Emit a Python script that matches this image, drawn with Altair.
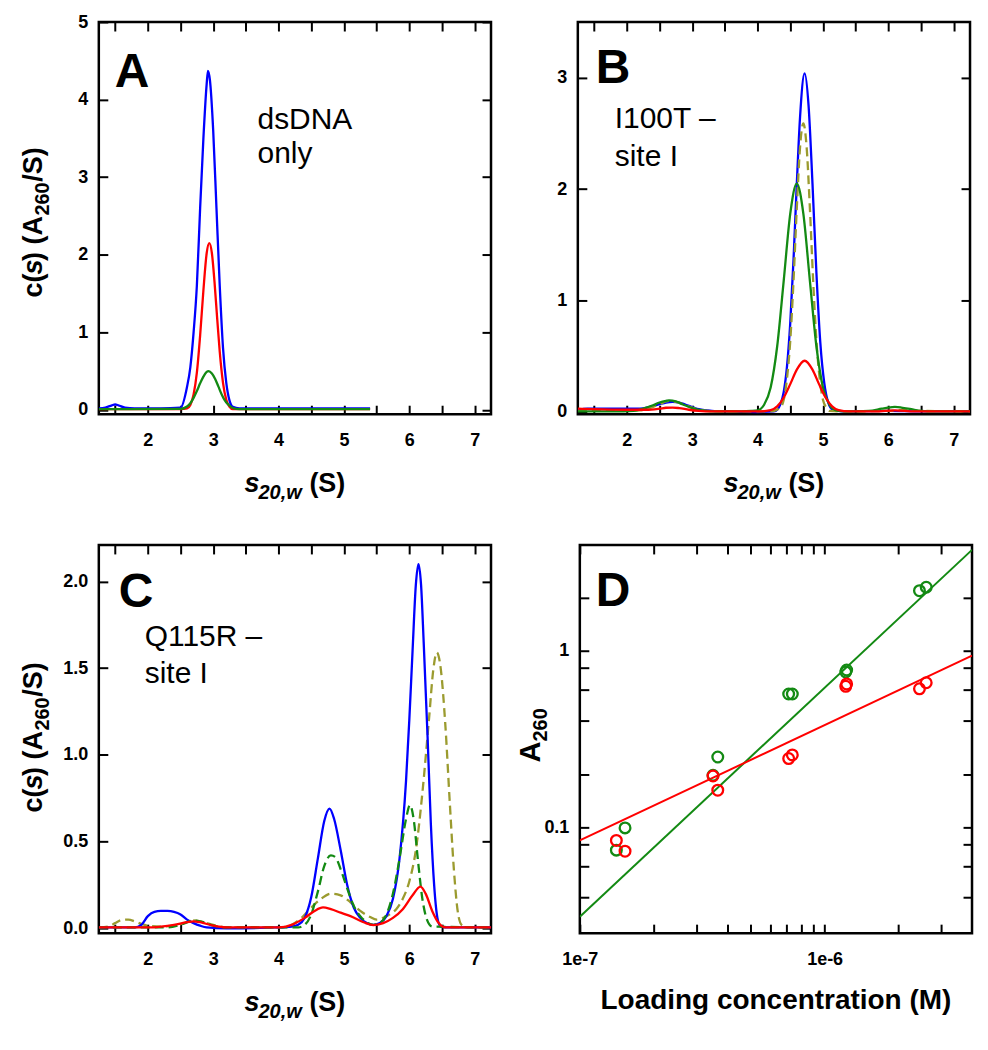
import altair as alt
import pandas as pd

FONT = "Liberation Sans"
BLUE = "#0000ff"
RED = "#ff0000"
GREEN = "#138a13"
OLIVE = "#9b9b2f"

# ---------------- Panel A : dsDNA only ----------------
A_blue_s = [1.25, 1.35, 1.45, 1.5, 1.55, 1.65, 1.8, 2.2, 2.5, 2.6, 2.65, 2.7, 2.75, 2.8, 2.85, 2.9, 2.92, 2.95,
            3.0, 3.05, 3.1, 3.15, 3.2, 3.25, 3.3, 3.4, 4.0, 5.4]
A_blue_c = [0.02, 0.03, 0.06, 0.07, 0.06, 0.03, 0.02, 0.02, 0.03, 0.3, 0.55, 1.0, 1.6, 2.6, 3.5, 4.2, 4.37, 4.25,
            3.6, 2.6, 1.6, 0.8, 0.35, 0.12, 0.04, 0.02, 0.02, 0.02]
A_red_s = [1.25, 2.5, 2.6, 2.65, 2.7, 2.75, 2.8, 2.85, 2.9, 2.94, 2.98, 3.02, 3.06, 3.1, 3.15, 3.2, 3.25, 3.3, 3.4, 5.4]
A_red_c = [0.01, 0.01, 0.02, 0.065, 0.2, 0.48, 0.96, 1.54, 2.02, 2.15, 2.02, 1.65, 1.19, 0.75, 0.35, 0.13, 0.04,
           0.01, 0.01, 0.01]
A_green_s = [1.25, 2.5, 2.6, 2.65, 2.7, 2.75, 2.8, 2.85, 2.9, 2.93, 2.98, 3.03, 3.08, 3.13, 3.18, 3.23, 3.3, 3.4, 5.4]
A_green_c = [0.01, 0.015, 0.045, 0.087, 0.156, 0.243, 0.343, 0.43, 0.49, 0.5, 0.47, 0.4, 0.3, 0.2, 0.12, 0.07,
             0.025, 0.01, 0.01]

# ---------------- Panel B : I100T - site I ----------------
B_blue_s = [1.25, 1.4, 1.8, 2.2, 2.35, 2.5, 2.6, 2.7, 2.8, 2.9, 3.0, 3.1, 3.3, 3.6, 4.0, 4.25, 4.3, 4.35, 4.4, 4.45,
            4.5, 4.55, 4.6, 4.65, 4.72, 4.78, 4.84, 4.9, 4.96, 5.02, 5.08, 5.15, 5.3, 6.0, 6.5, 7.25]
B_blue_c = [0.02, 0.03, 0.03, 0.03, 0.045, 0.07, 0.085, 0.09, 0.085, 0.065, 0.045, 0.025, 0.01, 0.005, 0.0, 0.005,
            0.02, 0.07, 0.18, 0.41, 0.8, 1.37, 2.05, 2.65, 3.04, 2.75, 2.05, 1.25, 0.62, 0.26, 0.085, 0.02, 0.005,
            0.01, 0.005, 0.005]
B_olive_s = [1.25, 1.8, 2.2, 2.35, 2.5, 2.6, 2.65, 2.75, 2.9, 3.05, 3.2, 3.5, 4.2, 4.35, 4.4, 4.45, 4.5, 4.55, 4.6,
             4.65, 4.7, 4.75, 4.8, 4.85, 4.9, 4.95, 5.0, 5.05, 5.1, 5.3, 6.0, 6.3, 6.5, 7.25]
B_olive_c = [0.01, 0.01, 0.015, 0.035, 0.07, 0.095, 0.1, 0.09, 0.06, 0.03, 0.012, 0.005, 0.005, 0.04, 0.11, 0.3,
             0.64, 1.18, 1.83, 2.38, 2.59, 2.38, 1.83, 1.18, 0.64, 0.3, 0.11, 0.04, 0.01, 0.005, 0.01, 0.02, 0.01,
             0.005]
B_green_s = [1.25, 1.8, 2.1, 2.25, 2.4, 2.5, 2.6, 2.65, 2.75, 2.85, 3.0, 3.15, 3.3, 3.6, 3.9, 4.0, 4.1, 4.2, 4.3,
             4.4, 4.5, 4.6, 4.7, 4.8, 4.9, 5.0, 5.1, 5.2, 5.35, 5.7, 5.9, 6.0, 6.1, 6.2, 6.35, 6.5, 6.7, 7.25]
B_green_c = [0.005, 0.005, 0.01, 0.03, 0.06, 0.085, 0.1, 0.105, 0.095, 0.07, 0.035, 0.015, 0.005, 0.005, 0.01,
             0.015, 0.065, 0.22, 0.59, 1.18, 1.78, 2.05, 1.78, 1.18, 0.59, 0.22, 0.065, 0.015, 0.005, 0.01, 0.03,
             0.04, 0.045, 0.04, 0.025, 0.01, 0.005, 0.005]
B_red_s = [1.25, 1.5, 2.0, 2.3, 2.5, 2.6, 2.7, 2.8, 2.95, 3.1, 3.3, 4.0, 4.2, 4.3, 4.4, 4.5, 4.6, 4.72, 4.84, 4.94,
           5.04, 5.14, 5.24, 5.4, 5.8, 6.1, 6.4, 7.25]
B_red_c = [0.03, 0.025, 0.02, 0.02, 0.03, 0.038, 0.04, 0.035, 0.02, 0.01, 0.005, 0.005, 0.016, 0.05, 0.13, 0.25,
           0.38, 0.46, 0.38, 0.25, 0.13, 0.05, 0.016, 0.005, 0.005, 0.015, 0.005, 0.005]

# ---------------- Panel C : Q115R - site I ----------------
C_blue_s = [1.25, 1.8, 1.9, 2.0, 2.1, 2.2, 2.3, 2.4, 2.5, 2.6, 2.7, 2.8, 2.9, 3.2, 4.0, 4.2, 4.3, 4.4, 4.5, 4.6,
            4.7, 4.78, 4.85, 4.95, 5.05, 5.15, 5.25, 5.35, 5.45, 5.55, 5.65, 5.75, 5.85, 5.95, 6.0, 6.05, 6.1, 6.14,
            6.18, 6.22, 6.28, 6.33, 6.38, 6.43, 6.48, 6.6, 7.25]
C_blue_c = [0.005, 0.005, 0.02, 0.07, 0.095, 0.1, 0.1, 0.095, 0.08, 0.05, 0.03, 0.015, 0.005, 0.0, 0.005, 0.01,
            0.02, 0.06, 0.18, 0.4, 0.62, 0.69, 0.63, 0.45, 0.25, 0.12, 0.06, 0.03, 0.02, 0.03, 0.07, 0.17, 0.4,
            0.85, 1.2, 1.6, 1.98, 2.1, 1.98, 1.65, 1.1, 0.6, 0.25, 0.06, 0.01, 0.005, 0.005]
C_red_s = [1.25, 2.0, 2.2, 2.4, 2.6, 2.7, 2.8, 3.0, 3.2, 4.0, 4.2, 4.4, 4.55, 4.68, 4.8, 4.95, 5.1, 5.3, 5.45, 5.6,
           5.75, 5.9, 6.05, 6.17, 6.25, 6.35, 6.45, 6.55, 7.25]
C_red_c = [0.005, 0.005, 0.01, 0.02, 0.035, 0.04, 0.035, 0.015, 0.005, 0.005, 0.02, 0.06, 0.1, 0.12, 0.11, 0.09,
           0.07, 0.035, 0.018, 0.03, 0.06, 0.11, 0.19, 0.24, 0.2, 0.1, 0.03, 0.005, 0.005]
C_green_s = [1.25, 2.3, 2.5, 2.7, 2.85, 3.0, 3.2, 4.3, 4.4, 4.5, 4.6, 4.7, 4.8, 4.87, 4.95, 5.05, 5.15, 5.25, 5.35,
             5.45, 5.55, 5.65, 5.75, 5.85, 5.95, 6.01, 6.07, 6.13, 6.2, 6.27, 6.35, 7.25]
C_green_c = [0.005, 0.005, 0.02, 0.045, 0.035, 0.015, 0.005, 0.005, 0.02, 0.08, 0.21, 0.36, 0.42, 0.41, 0.34, 0.23,
             0.13, 0.07, 0.035, 0.02, 0.03, 0.08, 0.2, 0.4, 0.63, 0.71, 0.62, 0.4, 0.17, 0.05, 0.01, 0.005]
C_olive_s = [1.25, 1.4, 1.5, 1.6, 1.7, 1.8, 1.9, 2.0, 2.2, 2.4, 2.55, 2.7, 2.85, 3.0, 3.2, 4.0, 4.2, 4.35, 4.5, 4.65,
             4.8, 4.95, 5.1, 5.25, 5.4, 5.5, 5.6, 5.7, 5.8, 5.9, 6.0, 6.1, 6.2, 6.3, 6.37, 6.42, 6.48, 6.55, 6.62,
             6.68, 6.74, 6.8, 6.9, 7.25]
C_olive_c = [0.005, 0.01, 0.03, 0.048, 0.05, 0.04, 0.025, 0.015, 0.01, 0.015, 0.03, 0.045, 0.035, 0.02, 0.005,
             0.005, 0.02, 0.06, 0.12, 0.17, 0.2, 0.19, 0.15, 0.1, 0.065, 0.05, 0.06, 0.08, 0.11, 0.17, 0.27, 0.45,
             0.78, 1.2, 1.5, 1.59, 1.5, 1.18, 0.72, 0.35, 0.1, 0.02, 0.005, 0.005]

# ---------------- Panel D : A260 vs loading concentration ----------------
D_conc = [1.41e-7, 1.53e-7, 3.50e-7, 3.66e-7, 7.13e-7, 7.38e-7, 1.22e-6, 1.23e-6, 2.44e-6, 2.60e-6]
D_green = [0.074, 0.099, 0.197, 0.25, 0.57, 0.57, 0.76, 0.78, 2.2, 2.3]
D_red = [0.084, 0.073, 0.195, 0.162, 0.245, 0.257, 0.63, 0.65, 0.61, 0.66]
D_fit_x = [1e-7, 4e-6]
D_green_fit = [0.031, 3.75]
D_red_fit = [0.084, 0.94]

S_TICKS = [1.5, 2, 2.5, 3, 3.5, 4, 4.5, 5, 5.5, 6, 6.5, 7]
D_X_TICKS = [1e-7, 2e-7, 3e-7, 4e-7, 5e-7, 6e-7, 7e-7, 8e-7, 9e-7, 1e-6, 2e-6, 3e-6]
D_Y_TICKS = [0.04, 0.06, 0.08, 0.1, 0.2, 0.4, 0.6, 0.8, 1, 2]

W = 393
H1 = 393
H2 = 389
TICK = 9


def axis(orient, values, labels=True, label_expr=None, fmt=None, pad=11):
    kw = dict(orient=orient, values=values, labels=labels, title=None, domain=False, grid=False,
              ticks=True, tickSize=TICK, tickWidth=2, tickColor="black", offset=-TICK,
              labelPadding=pad, labelFont=FONT, labelFontSize=18, labelFontWeight="bold",
              labelColor="black", labelFlush=False, labelOverlap=False)
    if label_expr is not None:
        kw["labelExpr"] = label_expr
    if fmt is not None:
        kw["format"] = fmt
    return alt.Axis(**kw)


def text(t, x, y, size, weight="bold", style="normal", angle=0, align="left"):
    return alt.Chart(alt.InlineData(values=[{"t": t}])).mark_text(
        align=align, baseline="alphabetic", font=FONT, fontSize=size, fontWeight=weight,
        fontStyle=style, angle=angle, color="black"
    ).encode(text="t:N", x=alt.value(x), y=alt.value(y))


def curve(s, c, color, xs, ys, dash=None):
    df = pd.DataFrame({"s": s, "c": c})
    props = dict(color=color, strokeWidth=2.3, interpolate="monotone", clip=True)
    if dash:
        props["strokeDash"] = dash
    return alt.Chart(df).mark_line(**props).encode(
        x=alt.X("s:Q", scale=xs, axis=None), y=alt.Y("c:Q", scale=ys, axis=None))


def frame_layers(df, xf, yf, xs, ys, xt, yt, xexpr, yexpr, yfmt=None):
    base = alt.Chart(df).mark_point(opacity=0, clip=True)
    bl = base.encode(
        x=alt.X(xf, scale=xs, axis=axis("bottom", xt, label_expr=xexpr, pad=17)),
        y=alt.Y(yf, scale=ys, axis=axis("left", yt, label_expr=yexpr, fmt=yfmt)))
    tr = base.encode(
        x=alt.X(xf, scale=xs, axis=axis("top", xt, labels=False)),
        y=alt.Y(yf, scale=ys, axis=axis("right", yt, labels=False)))
    return [bl, tr]


def s_title(h):
    return [text("s", 146, h + 78, 27, style="italic"),
            text("20,w", 160, h + 85, 20, style="italic"),
            text("(S)", 211, h + 78, 27)]


def cs_title(dy):
    return [text("c(", -57, 276 + dy, 27, angle=270),
            text("s", -57, 253 + dy, 27, style="italic", angle=270),
            text(") (A", -57, 239.5 + dy, 27, angle=270),
            text("260", -50, 194 + dy, 20, angle=270),
            text("/S)", -57, 160 + dy, 27, angle=270)]


INT_EXPR = "datum.value % 1 === 0 ? '' + datum.value : ''"

# Panel A
xsA = alt.Scale(domain=[1.25, 7.25], nice=False, zero=False)
ysA = alt.Scale(domain=[-0.055, 5], nice=False, zero=False)
dfA = pd.DataFrame({"s": A_green_s, "c": A_green_c})
panelA = alt.layer(
    curve(A_blue_s, A_blue_c, BLUE, xsA, ysA),
    curve(A_red_s, A_red_c, RED, xsA, ysA),
    curve(A_green_s, A_green_c, GREEN, xsA, ysA),
    *frame_layers(dfA, "s:Q", "c:Q", xsA, ysA, S_TICKS, [0, 1, 2, 3, 4, 5], INT_EXPR, None),
    text("A", 16, 65, 48),
    text("dsDNA", 159, 107, 30, weight="normal"),
    text("only", 159, 141, 30, weight="normal"),
    *s_title(H1),
    *cs_title(0),
).resolve_axis(x="independent", y="independent").properties(width=W, height=H1)

# Panel B
xsB = alt.Scale(domain=[1.25, 7.25], nice=False, zero=False)
ysB = alt.Scale(domain=[-0.02, 3.5], nice=False, zero=False)
dfB = pd.DataFrame({"s": B_green_s, "c": B_green_c})
panelB = alt.layer(
    curve(B_blue_s, B_blue_c, BLUE, xsB, ysB),
    curve(B_olive_s, B_olive_c, OLIVE, xsB, ysB, dash=[9, 5]),
    curve(B_green_s, B_green_c, GREEN, xsB, ysB),
    curve(B_red_s, B_red_c, RED, xsB, ysB),
    *frame_layers(dfB, "s:Q", "c:Q", xsB, ysB, S_TICKS, [0, 1, 2, 3], INT_EXPR, None),
    text("B", 18, 61, 48),
    text("I100T \u2013", 37, 106, 30, weight="normal"),
    text("site I", 37, 144, 30, weight="normal"),
    *s_title(H1),
).resolve_axis(x="independent", y="independent").properties(width=W, height=H1)

# Panel C
xsC = alt.Scale(domain=[1.25, 7.25], nice=False, zero=False)
ysC = alt.Scale(domain=[-0.028, 2.21], nice=False, zero=False)
dfC = pd.DataFrame({"s": C_blue_s, "c": C_blue_c})
panelC = alt.layer(
    curve(C_olive_s, C_olive_c, OLIVE, xsC, ysC, dash=[9, 5]),
    curve(C_blue_s, C_blue_c, BLUE, xsC, ysC),
    curve(C_green_s, C_green_c, GREEN, xsC, ysC, dash=[9, 5]),
    curve(C_red_s, C_red_c, RED, xsC, ysC),
    *frame_layers(dfC, "s:Q", "c:Q", xsC, ysC, S_TICKS, [0, 0.5, 1, 1.5, 2], INT_EXPR, None, yfmt=".1f"),
    text("C", 20, 62, 48),
    text("Q115R \u2013", 46, 101, 30, weight="normal"),
    text("site I", 46, 138, 30, weight="normal"),
    *s_title(H2),
    *cs_title(-8),
).resolve_axis(x="independent", y="independent").properties(width=W, height=H2)

# Panel D
xsD = alt.Scale(type="log", domain=[1e-7, 4e-6], nice=False)
ysD = alt.Scale(type="log", domain=[0.025, 4.0], nice=False)
dfD = pd.DataFrame({"conc": D_conc, "green": D_green, "red": D_red})
fitD = pd.DataFrame({"conc": D_fit_x, "green": D_green_fit, "red": D_red_fit})
DX_EXPR = ("datum.value < 1.05e-7 ? '1e-7' : "
           "(datum.value > 0.95e-6 && datum.value < 1.05e-6 ? '1e-6' : '')")
DY_EXPR = ("datum.value > 0.95 && datum.value < 1.05 ? '1' : "
           "(datum.value > 0.095 && datum.value < 0.105 ? '0.1' : '')")


def fit_line(field, color):
    return alt.Chart(fitD).mark_line(color=color, strokeWidth=2, clip=True).encode(
        x=alt.X("conc:Q", scale=xsD, axis=None), y=alt.Y(f"{field}:Q", scale=ysD, axis=None))


def pts(field, color):
    return alt.Chart(dfD).mark_point(shape="circle", filled=False, color=color, size=115,
                                     strokeWidth=2.3, opacity=1, clip=True).encode(
        x=alt.X("conc:Q", scale=xsD, axis=None), y=alt.Y(f"{field}:Q", scale=ysD, axis=None))


panelD = alt.layer(
    fit_line("green", GREEN),
    fit_line("red", RED),
    pts("green", GREEN),
    pts("red", RED),
    *frame_layers(dfD, "conc:Q", "green:Q", xsD, ysD, D_X_TICKS, D_Y_TICKS, DX_EXPR, DY_EXPR),
    text("D", 16, 61, 48),
    text("Loading concentration (M)", W / 2, H2 + 76, 28, align="center"),
    text("A", -40, 218, 29, angle=270),
    text("260", -33, 197, 20, angle=270),
).resolve_axis(x="independent", y="independent").properties(width=W, height=H2)

row1 = alt.hconcat(panelA, panelB, spacing=61)
row2 = alt.hconcat(panelC, panelD, spacing=21)
chart = alt.vconcat(row1, row2, spacing=37).properties(
    padding={"left": 10, "top": 2, "right": 5, "bottom": 5}
).configure(font=FONT).configure_view(stroke="black", strokeWidth=2.5)

chart.save("out.html", embed_options={"renderer": "svg", "actions": False})
